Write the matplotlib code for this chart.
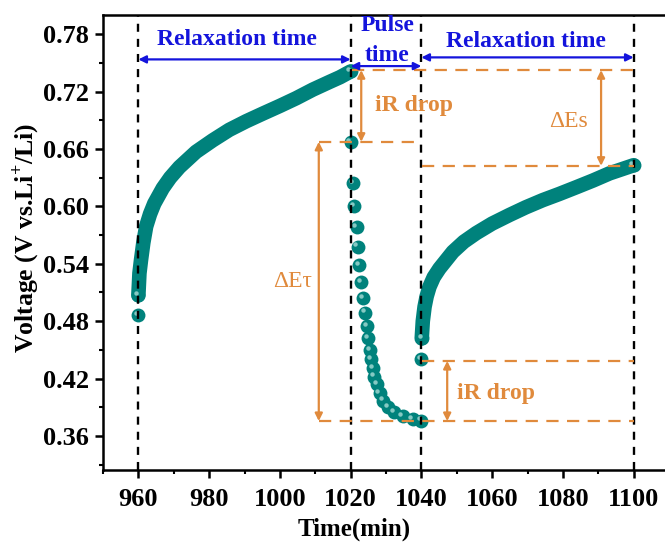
import numpy as np
import matplotlib
matplotlib.use('Agg')
import matplotlib.pyplot as plt
from matplotlib.transforms import offset_copy

#%% data
# first relaxation (960-1020 min)
t_relax1 = [960.0, 960.0, 960.3, 960.75, 961.4, 962.2, 963.3, 964.5, 966.9, 969.0, 971.6,
            976.3, 981.0, 985.7, 990.5, 995.2, 1000.0, 1004.6, 1009.3, 1014.0, 1017.0, 1020.0]
v_relax1 = [0.486, 0.507, 0.530, 0.544, 0.562, 0.579, 0.592, 0.603, 0.619, 0.630, 0.641,
            0.657, 0.669, 0.680, 0.689, 0.697, 0.705, 0.713, 0.722, 0.730, 0.735, 0.741]
# current pulse (1020-1040 min)
t_pulse = [1020.0, 1020.6, 1020.9, 1021.7, 1022.0, 1022.5, 1023.0, 1023.6, 1024.1, 1024.7,
           1025.0, 1025.5, 1025.8, 1026.3, 1026.7, 1027.4, 1028.2, 1029.1, 1030.5, 1032.4,
           1034.7, 1037.5, 1040.0]
v_pulse = [0.667, 0.624, 0.600, 0.578, 0.558, 0.539, 0.521, 0.504, 0.489, 0.475,
           0.462, 0.450, 0.440, 0.431, 0.422, 0.414, 0.405, 0.397, 0.390, 0.385,
           0.381, 0.378, 0.376]
# second relaxation (1040-1100 min)
t_relax2 = [1040.0, 1040.1, 1040.4, 1040.9, 1041.5, 1042.3, 1043.5, 1045.1, 1048.9, 1052.0,
            1055.5, 1060.0, 1064.9, 1069.5, 1074.3, 1079.0, 1083.8, 1088.5, 1093.2, 1100.0]
v_relax2 = [0.440, 0.462, 0.480, 0.495, 0.506, 0.516, 0.526, 0.535, 0.5525, 0.563,
            0.572, 0.582, 0.591, 0.599, 0.6065, 0.613, 0.620, 0.627, 0.6345, 0.643]

x_ticks = [960, 980, 1000, 1020, 1040, 1060, 1080, 1100]
y_ticks = [0.36, 0.42, 0.48, 0.54, 0.60, 0.66, 0.72, 0.78]
step_lines = [960, 1020, 1040, 1100]

#%% style
plt.rcParams['font.family'] = ['Liberation Serif', 'DejaVu Serif']
plt.rcParams['font.weight'] = 'bold'
plt.rcParams['mathtext.fontset'] = 'custom'
plt.rcParams['mathtext.rm'] = 'Liberation Serif'
plt.rcParams['mathtext.bf'] = 'Liberation Serif:bold'

teal = '#00827C'
shine = '#A8DCD6'
orange = '#E08A3C'
blue = '#1414DC'

fig = plt.figure(figsize=(6.65, 5.42), dpi=100)
ax = fig.add_axes([103/665, 72/542, 566/665, 455/542])
hl = offset_copy(ax.transData, fig=fig, x=-1.6, y=1.6, units='points')

#%% curves: dense bands + single points with a small highlight
ax.plot(t_relax1[1:], v_relax1[1:], '-', color=teal, lw=10.5, solid_capstyle='round', zorder=2)
ax.plot(t_relax2[1:], v_relax2[1:], '-', color=teal, lw=10.5, solid_capstyle='round', zorder=2)
pt_t = t_relax1[:2] + t_pulse + t_relax2[:2] + [t_relax1[-1], t_relax2[-1]]
pt_v = v_relax1[:2] + v_pulse + v_relax2[:2] + [v_relax1[-1], v_relax2[-1]]
ax.plot(pt_t, pt_v, 'o', color=teal, ms=10, mec=teal, mew=0, zorder=2)
ax.plot(pt_t, pt_v, 'o', color=shine, ms=3.2, mew=0, alpha=0.8, zorder=2, transform=hl)

#%% black step lines
for t in step_lines:
    ax.axvline(t, color='k', lw=1.7, ls=(0, (3.4, 3.0)), zorder=3)

#%% arrows
def harrow(x0, x1, y, color, lw=1.6):
    ax.annotate('', xy=(x1, y), xytext=(x0, y),
                arrowprops=dict(arrowstyle='<|-|>', color=color, lw=lw,
                                mutation_scale=11, shrinkA=0, shrinkB=0), zorder=4)

def varrow(x, y0, y1, color, lw=1.6):
    ax.annotate('', xy=(x, y1), xytext=(x, y0),
                arrowprops=dict(arrowstyle='<|-|>', color=color, lw=lw,
                                mutation_scale=11, shrinkA=0, shrinkB=0), zorder=4)

harrow(960, 1020, 0.7536, blue)
harrow(1020, 1040, 0.7466, blue)
harrow(1040, 1100, 0.7557, blue)
ax.text(988, 0.774, 'Relaxation time', color=blue, fontsize=17, fontweight='bold',
        ha='center', va='center')
ax.text(1030.3, 0.789, 'Pulse', color=blue, fontsize=17, fontweight='bold',
        ha='center', va='center')
ax.text(1030.3, 0.758, 'time', color=blue, fontsize=17, fontweight='bold',
        ha='center', va='center')
ax.text(1069.6, 0.772, 'Relaxation time', color=blue, fontsize=17, fontweight='bold',
        ha='center', va='center')

#%% orange dashed guides
ods = (0, (5.5, 3.8))
ax.plot([1020.4, 1100], [0.7424, 0.7424], color=orange, lw=1.6, ls=ods, zorder=3)
ax.plot([1011, 1039.5], [0.6675, 0.6675], color=orange, lw=1.6, ls=ods, zorder=3)
ax.plot([1040.3, 1100], [0.6424, 0.6424], color=orange, lw=1.6, ls=ods, zorder=3)
ax.plot([1040.3, 1100], [0.4385, 0.4385], color=orange, lw=1.6, ls=ods, zorder=3)
ax.plot([1011, 1100], [0.3756, 0.3756], color=orange, lw=1.6, ls=ods, zorder=3)

varrow(1023.0, 0.7424, 0.6675, orange)
varrow(1090.8, 0.7424, 0.6424, orange)
varrow(1011.0, 0.6675, 0.3756, orange)
varrow(1047.3, 0.4385, 0.3756, orange)

ax.text(1038, 0.705, 'iR drop', color=orange, fontsize=17, fontweight='bold',
        ha='center', va='center')
ax.text(1061.1, 0.4046, 'iR drop', color=orange, fontsize=17, fontweight='bold',
        ha='center', va='center')
ax.text(1081.6, 0.689, '\u0394Es', color=orange, fontsize=17, fontweight='normal',
        ha='center', va='center')
ax.text(1003.6, 0.521, '\u0394E\u03c4', color=orange, fontsize=17, fontweight='normal',
        ha='center', va='center')

#%% axes
ax.set_xlim(950, 1110)
ax.set_ylim(0.3245, 0.80)
ax.set_xticks(x_ticks)
ax.set_xticks(np.arange(950, 1110, 10), minor=True)
ax.set_yticks(y_ticks)
ax.set_yticks(np.arange(0.33, 0.80, 0.03), minor=True)
ax.set_yticklabels(['%.2f' % v for v in y_ticks])
ax.tick_params(which='major', direction='out', length=6, width=1.8, labelsize=19, pad=4)
ax.tick_params(axis='x', which='major', pad=7)
ax.tick_params(which='minor', direction='out', length=3, width=1.5)
ax.tick_params(top=False, right=False)
for s in ax.spines.values():
    s.set_linewidth(1.8)
for lab in ax.get_xticklabels() + ax.get_yticklabels():
    lab.set_fontweight('bold')

ax.set_xlabel('Time(min)', fontsize=18, fontweight='bold')
ax.set_ylabel('Voltage (V vs.Li$^{+}$/Li)', fontsize=18.5, fontweight='bold')
ax.xaxis.set_label_coords(0.444, -0.105)
ax.yaxis.set_label_coords(-0.11, 0.51)

plt.savefig('out.png', dpi=100)
